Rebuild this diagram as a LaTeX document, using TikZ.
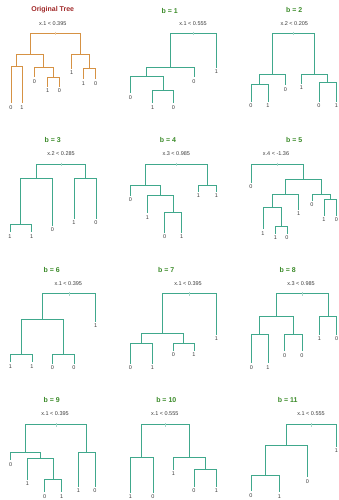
\documentclass[tikz,border=0pt]{standalone}
\usepackage{fontspec}
\setmainfont{Liberation Sans}
\definecolor{tealc}{RGB}{64,168,140}
\definecolor{orng}{RGB}{214,146,68}
\definecolor{ttlgreen}{RGB}{58,138,40}
\definecolor{ttlred}{RGB}{160,40,40}
\definecolor{txt}{RGB}{60,60,60}
\begin{document}
\begin{tikzpicture}[x=1pt,y=-1pt,
 edge/.style={draw=tealc,line width=0.95pt},
 oedge/.style={draw=orng,line width=0.95pt},
 tickmark/.style={draw=tealc!45!white,line width=0.6pt},
 otick/.style={draw=orng!45!white,line width=0.6pt},
 leaf/.style={font=\fontsize{5.5}{5.5}\selectfont,text=txt,inner xsep=0.5pt,inner ysep=2pt,text height=3.9pt,text depth=0pt},
 split/.style={font=\fontsize{5.5}{5.5}\selectfont,text=txt,inner sep=0pt},
 gtitle/.style={font=\fontsize{7}{7}\selectfont\bfseries,text=ttlgreen,inner sep=0pt},
 rtitle/.style={font=\fontsize{7}{7}\selectfont\bfseries,text=ttlred,inner sep=0pt}]
\useasboundingbox (0,0) rectangle (338,500);

% ---------- Panel 1: Original Tree ----------
\node[rtitle] (t1) at (52.7,9.3) {Original Tree};
\node[split] (s1) at (52.7,23.3) {x.1 < 0.395};
\coordinate (p1r) at (55.4,33.3);
\coordinate (p1a) at (30.2,54.3);
\coordinate (p1aa) at (16.5,66);
\coordinate (p1ab) at (43.9,67.7);
\coordinate (p1abb) at (53.5,77.7);
\coordinate (p1b) at (80.6,54.3);
\coordinate (p1bb) at (89.5,68.3);
\node[leaf] (p1l1) at (11,107.3) {0};
\node[leaf] (p1l2) at (22,107.3) {1};
\node[leaf] (p1l3) at (34.3,81.3) {0};
\node[leaf] (p1l4) at (47.7,91) {1};
\node[leaf] (p1l5) at (59.3,91) {0};
\node[leaf] (p1l6) at (71.7,72.7) {1};
\node[leaf] (p1l7) at (83.3,83.3) {1};
\node[leaf] (p1l8) at (95.7,83.3) {0};
\draw[oedge] (p1r) -| (p1a) (p1r) -| (p1b) (p1a) -| (p1aa) (p1a) -| (p1ab)
  (p1aa) -| (p1l1) (p1aa) -| (p1l2) (p1ab) -| (p1l3) (p1ab) -| (p1abb)
  (p1abb) -| (p1l4) (p1abb) -| (p1l5) (p1b) -| (p1l6) (p1b) -| (p1bb)
  (p1bb) -| (p1l7) (p1bb) -| (p1l8);
\draw[otick] (p1r) ++(0,-1.3) -- ++(0,3.5);

% ---------- Panel 2: b = 1 ----------
\node[gtitle] (t2) at (169.7,10.7) {b = 1};
\node[split] (s2) at (193,23.3) {x.1 < 0.555};
\coordinate (p2r) at (193.3,33.3);
\coordinate (p2a) at (170.3,67.7);
\coordinate (p2aa) at (146.65,76.7);
\coordinate (p2aab) at (163,90.7);
\node[leaf] (p2l1) at (130.3,97.3) {0};
\node[leaf] (p2l2) at (152.7,107.3) {1};
\node[leaf] (p2l3) at (173.3,107.3) {0};
\node[leaf] (p2l4) at (194,81.3) {0};
\node[leaf] (p2l5) at (216.3,71.7) {1};
\draw[edge] (p2r) -| (p2a) (p2r) -| (p2l5) (p2a) -| (p2aa) (p2a) -| (p2l4)
  (p2aa) -| (p2l1) (p2aa) -| (p2aab) (p2aab) -| (p2l2) (p2aab) -| (p2l3);
\draw[tickmark] (p2r) ++(0,-1.3) -- ++(0,3.5);

% ---------- Panel 3: b = 2 ----------
\node[gtitle] (t3) at (294.3,10) {b = 2};
\node[split] (s3) at (294.3,23.3) {x.2 < 0.205};
\coordinate (p3r) at (293.45,33.3);
\coordinate (p3a) at (272.4,74);
\coordinate (p3aa) at (259.5,84.3);
\coordinate (p3b) at (314.5,74);
\coordinate (p3bb) at (327.65,82.3);
\node[leaf] (p3l1) at (251,106) {0};
\node[leaf] (p3l2) at (268,106) {1};
\node[leaf] (p3l3) at (285.3,89.3) {0};
\node[leaf] (p3l4) at (301.3,88) {1};
\node[leaf] (p3l5) at (319,106) {0};
\node[leaf] (p3l6) at (336.3,106) {1};
\draw[edge] (p3r) -| (p3a) (p3r) -| (p3b) (p3a) -| (p3aa) (p3a) -| (p3l3)
  (p3aa) -| (p3l1) (p3aa) -| (p3l2) (p3b) -| (p3l4) (p3b) -| (p3bb)
  (p3bb) -| (p3l5) (p3bb) -| (p3l6);
\draw[tickmark] (p3r) ++(0,-1.3) -- ++(0,3.5);

% ---------- Panel 4: b = 3 ----------
\node[gtitle] (t4) at (52.7,140) {b = 3};
\node[split] (s4) at (61,153.3) {x.2 < 0.285};
\coordinate (p4r) at (60.8,164);
\coordinate (p4a) at (36.6,178.3);
\coordinate (p4aa) at (20.85,224);
\coordinate (p4b) at (85,178.3);
\node[leaf] (p4l1) at (10,236.3) {1};
\node[leaf] (p4l2) at (31.7,236.3) {1};
\node[leaf] (p4l3) at (52.3,229.7) {0};
\node[leaf] (p4l4) at (74,222.7) {1};
\node[leaf] (p4l5) at (96,222.7) {0};
\draw[edge] (p4r) -| (p4a) (p4r) -| (p4b) (p4a) -| (p4aa) (p4a) -| (p4l3)
  (p4aa) -| (p4l1) (p4aa) -| (p4l2) (p4b) -| (p4l4) (p4b) -| (p4l5);
\draw[tickmark] (p4r) ++(0,-1.3) -- ++(0,3.5);

% ---------- Panel 5: b = 4 ----------
\node[gtitle] (t5) at (168,140) {b = 4};
\node[split] (s5) at (176.3,153.3) {x.3 < 0.985};
\coordinate (p5r) at (176.3,164);
\coordinate (p5a) at (145.3,185);
\coordinate (p5ab) at (160.25,195);
\coordinate (p5abb) at (173.2,212.7);
\coordinate (p5b) at (207.3,185);
\node[leaf] (p5l1) at (130.3,200) {0};
\node[leaf] (p5l2) at (147.3,217.3) {1};
\node[leaf] (p5l3) at (164.7,237) {0};
\node[leaf] (p5l4) at (181.7,237) {1};
\node[leaf] (p5l5) at (198.3,195.7) {1};
\node[leaf] (p5l6) at (216.3,195.7) {1};
\draw[edge] (p5r) -| (p5a) (p5r) -| (p5b) (p5a) -| (p5l1) (p5a) -| (p5ab)
  (p5ab) -| (p5l2) (p5ab) -| (p5abb) (p5abb) -| (p5l3) (p5abb) -| (p5l4)
  (p5b) -| (p5l5) (p5b) -| (p5l6);
\draw[tickmark] (p5r) ++(0,-1.3) -- ++(0,3.5);

% ---------- Panel 6: b = 5 ----------
\node[gtitle] (t6) at (294.3,140) {b = 5};
\node[split] (s6) at (276,153.3) {x.4 < -1.36};
\coordinate (p6r) at (277.1,164);
\coordinate (p6b) at (303.25,179);
\coordinate (p6ba) at (285.4,194.3);
\coordinate (p6baa) at (272.1,207.3);
\coordinate (p6baab) at (281.15,226);
\coordinate (p6bb) at (321.1,194.3);
\coordinate (p6bbb) at (330.15,199);
\node[leaf] (p6l1) at (251,186.7) {0};
\node[leaf] (p6l2) at (263,233.3) {1};
\node[leaf] (p6l3) at (275.3,237.7) {1};
\node[leaf] (p6l4) at (287,237.7) {0};
\node[leaf] (p6l5) at (298.7,213.7) {1};
\node[leaf] (p6l6) at (312,205) {0};
\node[leaf] (p6l7) at (324,219.7) {1};
\node[leaf] (p6l8) at (336.3,219.7) {0};
\draw[edge] (p6r) -| (p6l1) (p6r) -| (p6b) (p6b) -| (p6ba) (p6b) -| (p6bb)
  (p6ba) -| (p6baa) (p6ba) -| (p6l5) (p6baa) -| (p6l2) (p6baa) -| (p6baab)
  (p6baab) -| (p6l3) (p6baab) -| (p6l4) (p6bb) -| (p6l6) (p6bb) -| (p6bbb)
  (p6bbb) -| (p6l7) (p6bbb) -| (p6l8);
\draw[tickmark] (p6r) ++(0,-1.3) -- ++(0,3.5);

% ---------- Panel 7: b = 6 ----------
\node[gtitle] (t7) at (51.7,270) {b = 6};
\node[split] (s7) at (68.3,283.3) {x.1 < 0.395};
\coordinate (p7r) at (68.9,293.3);
\coordinate (p7a) at (42.15,319.3);
\coordinate (p7aa) at (21.15,354);
\coordinate (p7ab) at (63.15,354);
\node[leaf] (p7l1) at (10.3,366.3) {1};
\node[leaf] (p7l2) at (32,366.3) {1};
\node[leaf] (p7l3) at (52.3,368) {0};
\node[leaf] (p7l4) at (74,368) {0};
\node[leaf] (p7l5) at (95.7,325.7) {1};
\draw[edge] (p7r) -| (p7a) (p7r) -| (p7l5) (p7a) -| (p7aa) (p7a) -| (p7ab)
  (p7aa) -| (p7l1) (p7aa) -| (p7l2) (p7ab) -| (p7l3) (p7ab) -| (p7l4);
\draw[tickmark] (p7r) ++(0,-1.3) -- ++(0,3.5);

% ---------- Panel 8: b = 7 ----------
\node[gtitle] (t8) at (166.3,270) {b = 7};
\node[split] (s8) at (188,283.3) {x.1 < 0.395};
\coordinate (p8r) at (189.4,293.3);
\coordinate (p8a) at (162.5,333.3);
\coordinate (p8aa) at (141.3,343.3);
\coordinate (p8ab) at (183.65,343.3);
\node[leaf] (p8l1) at (130.3,367.7) {0};
\node[leaf] (p8l2) at (152.3,367.7) {1};
\node[leaf] (p8l3) at (173.3,355) {0};
\node[leaf] (p8l4) at (194,355) {1};
\node[leaf] (p8l5) at (216.3,339) {1};
\draw[edge] (p8r) -| (p8a) (p8r) -| (p8l5) (p8a) -| (p8aa) (p8a) -| (p8ab)
  (p8aa) -| (p8l1) (p8aa) -| (p8l2) (p8ab) -| (p8l3) (p8ab) -| (p8l4);
\draw[tickmark] (p8r) ++(0,-1.3) -- ++(0,3.5);

% ---------- Panel 9: b = 8 ----------
\node[gtitle] (t9) at (287.7,270) {b = 8};
\node[split] (s9) at (301,283.3) {x.3 < 0.985};
\coordinate (p9r) at (302.25,293.3);
\coordinate (p9a) at (276.5,316.7);
\coordinate (p9aa) at (259.65,334.3);
\coordinate (p9ab) at (293.35,334.3);
\coordinate (p9b) at (328,316.7);
\node[leaf] (p9l1) at (251.3,367.3) {0};
\node[leaf] (p9l2) at (268,367.3) {1};
\node[leaf] (p9l3) at (284.7,355.3) {0};
\node[leaf] (p9l4) at (302,355.3) {0};
\node[leaf] (p9l5) at (319.3,338.7) {1};
\node[leaf] (p9l6) at (336.7,338.7) {0};
\draw[edge] (p9r) -| (p9a) (p9r) -| (p9b) (p9a) -| (p9aa) (p9a) -| (p9ab)
  (p9aa) -| (p9l1) (p9aa) -| (p9l2) (p9ab) -| (p9l3) (p9ab) -| (p9l4)
  (p9b) -| (p9l5) (p9b) -| (p9l6);
\draw[tickmark] (p9r) ++(0,-1.3) -- ++(0,3.5);

% ---------- Panel 10: b = 9 ----------
\node[gtitle] (t10) at (51.7,400) {b = 9};
\node[split] (s10) at (55,413.3) {x.1 < 0.395};
\coordinate (p10r) at (56.1,424.3);
\coordinate (p10a) at (25.5,452);
\coordinate (p10ab) at (40.25,458.3);
\coordinate (p10abb) at (53.2,479.3);
\coordinate (p10b) at (86.65,452);
\node[leaf] (p10l1) at (10.7,464.3) {0};
\node[leaf] (p10l2) at (27.3,484) {1};
\node[leaf] (p10l3) at (44.7,496.5) {0};
\node[leaf] (p10l4) at (61.7,496.5) {1};
\node[leaf] (p10l5) at (78.3,491) {1};
\node[leaf] (p10l6) at (95,491) {0};
\draw[edge] (p10r) -| (p10a) (p10r) -| (p10b) (p10a) -| (p10l1) (p10a) -| (p10ab)
  (p10ab) -| (p10l2) (p10ab) -| (p10abb) (p10abb) -| (p10l3) (p10abb) -| (p10l4)
  (p10b) -| (p10l5) (p10b) -| (p10l6);
\draw[tickmark] (p10r) ++(0,-1.3) -- ++(0,3.5);

% ---------- Panel 11: b = 10 ----------
\node[gtitle] (t11) at (166.3,400) {b = 10};
\node[split] (s11) at (164.7,413.3) {x.1 < 0.555};
\coordinate (p11r) at (165.4,424.3);
\coordinate (p11a) at (141.65,457.7);
\coordinate (p11b) at (189.2,457.7);
\coordinate (p11bb) at (205.15,469.3);
\node[leaf] (p11l1) at (130.3,497) {1};
\node[leaf] (p11l2) at (153,497) {0};
\node[leaf] (p11l3) at (173.3,474) {1};
\node[leaf] (p11l4) at (194,490.7) {0};
\node[leaf] (p11l5) at (216.3,490.7) {1};
\draw[edge] (p11r) -| (p11a) (p11r) -| (p11b) (p11a) -| (p11l1) (p11a) -| (p11l2)
  (p11b) -| (p11l3) (p11b) -| (p11bb) (p11bb) -| (p11l4) (p11bb) -| (p11l5);
\draw[tickmark] (p11r) ++(0,-1.3) -- ++(0,3.5);

% ---------- Panel 12: b = 11 ----------
\node[gtitle] (t12) at (287.7,400) {b = 11};
\node[split] (s12) at (311,413.3) {x.1 < 0.555};
\coordinate (p12r) at (311.25,424.3);
\coordinate (p12a) at (286.2,445.7);
\coordinate (p12aa) at (265.15,475);
\node[leaf] (p12l1) at (251,495.3) {0};
\node[leaf] (p12l2) at (279.3,496.5) {1};
\node[leaf] (p12l3) at (307.3,481.3) {0};
\node[leaf] (p12l4) at (336.3,451) {1};
\draw[edge] (p12r) -| (p12a) (p12r) -| (p12l4) (p12a) -| (p12aa) (p12a) -| (p12l3)
  (p12aa) -| (p12l1) (p12aa) -| (p12l2);
\draw[tickmark] (p12r) ++(0,-1.3) -- ++(0,3.5);
\end{tikzpicture}
\end{document}
